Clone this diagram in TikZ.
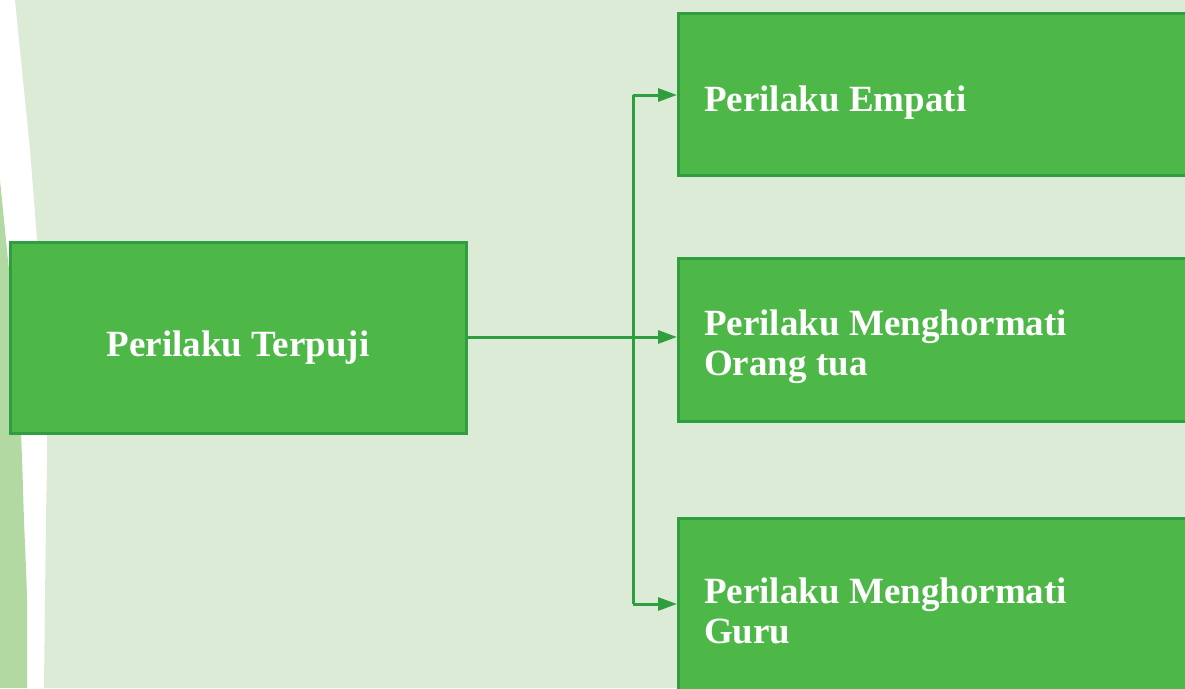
\documentclass[tikz,border=0pt]{standalone}
\usepackage{fontspec}
\setmainfont{Liberation Serif}
\usetikzlibrary{arrows.meta}
\definecolor{bglight}{HTML}{DBEBD6}
\definecolor{bgmid}{HTML}{B3D9A3}
\definecolor{boxfill}{HTML}{4DB848}
\definecolor{boxline}{HTML}{2E9E40}
\tikzset{
  gbox/.style={draw=boxline, line width=3pt, fill=boxfill, inner sep=0pt},
  btext/.style={text=white, font=\bfseries\fontsize{37}{40}\selectfont, inner sep=0pt, align=left},
  conn/.style={draw=boxline, line width=3pt, -{Triangle[length=19pt,width=13pt]}},
  trunk/.style={draw=boxline, line width=3pt}
}
\begin{document}
\begin{tikzpicture}[x=1pt,y=-1pt]
\useasboundingbox (0,0) rectangle (1185,688);
\clip (0,0) rectangle (1185,688);
\fill[white] (0,0) rectangle (1185,688);
\fill[bglight] plot[smooth] coordinates {(15,0) (23,80) (30,150) (37,240) (43,330) (47,433) (46,520) (45,600) (44,688)} -- (1185,688) -- (1185,0) -- cycle;
\fill[bgmid] plot[smooth] coordinates {(0,180) (7,250) (15,330) (21,433) (24,520) (27,600) (27,688)} -- (0,688) -- cycle;
% boxes
\path[gbox] (10,242) rectangle (466,433);
\node[btext, anchor=base] (t0) at (238,356) {Perilaku Terpuji};
\path[gbox] (678,13) rectangle (1195,175);
\path[gbox] (678,258) rectangle (1195,421);
\path[gbox] (678,518) rectangle (1195,700);
\node[btext, anchor=base west] (t1) at (704,111) {Perilaku Empati};
\node[btext, anchor=base west] (t2) at (704,375) {Perilaku Menghormati\\Orang tua};
\node[btext, anchor=base west] (t3) at (704,643) {Perilaku Menghormati\\Guru};
% connectors
\coordinate (l0) at (467,337);
\coordinate (r1) at (677,95);
\coordinate (r2) at (677,337);
\coordinate (r3) at (677,604);
\coordinate (j1) at (633,95);
\coordinate (j3) at (633,604);
\draw[trunk] (j1) -- (j3);
\draw[conn] (l0) -- (r2);
\draw[conn] (j1) -- (r1);
\draw[conn] (j3) -- (r3);
\end{tikzpicture}
\end{document}
